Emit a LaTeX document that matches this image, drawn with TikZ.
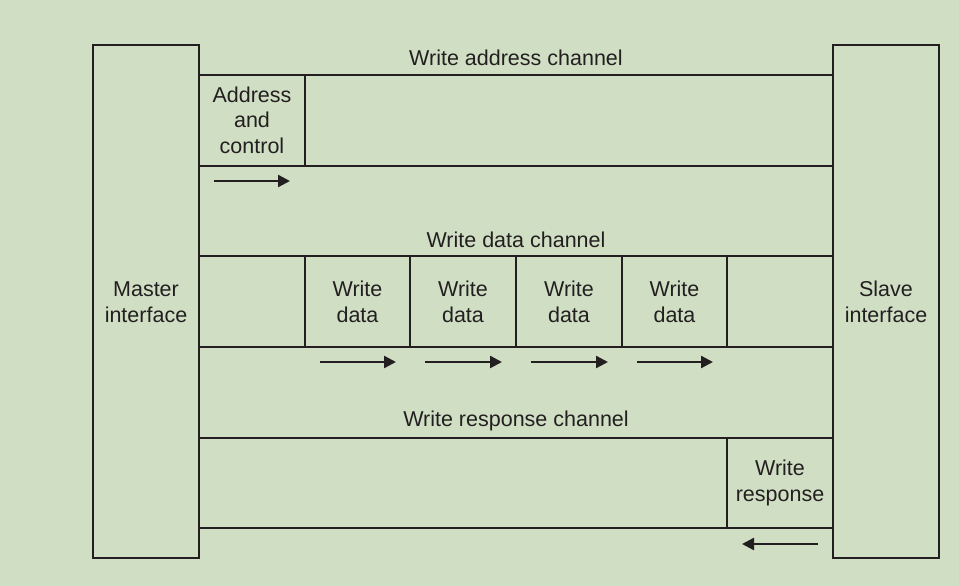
\documentclass[tikz,border=0pt]{standalone}
\usepackage{fontspec}
\setmainfont{Liberation Sans}
\usetikzlibrary{arrows.meta}
\definecolor{bgcol}{RGB}{208,223,196}
\definecolor{ink}{RGB}{35,31,32}
\begin{document}
\begin{tikzpicture}[x=1pt,y=-1pt,
  line width=2.4pt,
  wire/.style={draw=ink,line cap=rect},
  lbl/.style={text=ink,font=\fontsize{21.5}{25.5}\selectfont,align=center,inner sep=0pt},
  flow/.style={draw=ink,line width=2.4pt,-{Triangle[length=12pt,width=12pt]}}]
  % canvas
  \fill[bgcol] (0,0) rectangle (959,586);
  \useasboundingbox (0,0) rectangle (959,586);

  % interfaces
  \draw[wire] (93,45) rectangle (199,558);
  \draw[wire] (833,45) rectangle (939,558);
  \node[lbl] (master) at (146,302) {Master\\interface};
  \node[lbl] (slave) at (886,302) {Slave\\interface};

  % channel boundaries
  \foreach \yy in {75,166,256,347,438,528}
    \draw[wire] (199,\yy) -- (833,\yy);

  % write address channel
  \node[lbl] (awlbl) at (516,58) {Write address channel};
  \draw[wire] (305,75) -- (305,166);
  \node[lbl] (awcell) at (252,120) {Address\\and\\control};
  \coordinate (aws) at (214,181);
  \coordinate (awe) at (290,181);
  \draw[flow] (aws) -- (awe);

  % write data channel
  \node[lbl] (wlbl) at (516,240) {Write data channel};
  \foreach \xx in {305,410,516,622,727}
    \draw[wire] (\xx,256) -- (\xx,347);
  \foreach \xa/\xb/\n in {305/410/1,410/516/2,516/622/3,622/727/4}{
    \node[lbl] (wd\n) at ({(\xa+\xb)/2},302) {Write\\data};
    \coordinate (ws\n) at (\xa+15,362);
    \coordinate (we\n) at (\xb-14,362);
    \draw[flow] (ws\n) -- (we\n);
  }

  % write response channel
  \node[lbl] (blbl) at (516,421) {Write response channel};
  \draw[wire] (727,438) -- (727,528);
  \node[lbl] (bcell) at (780,483) {Write\\response};
  \coordinate (bs) at (818,544);
  \coordinate (be) at (742,544);
  \draw[flow] (bs) -- (be);
\end{tikzpicture}
\end{document}
